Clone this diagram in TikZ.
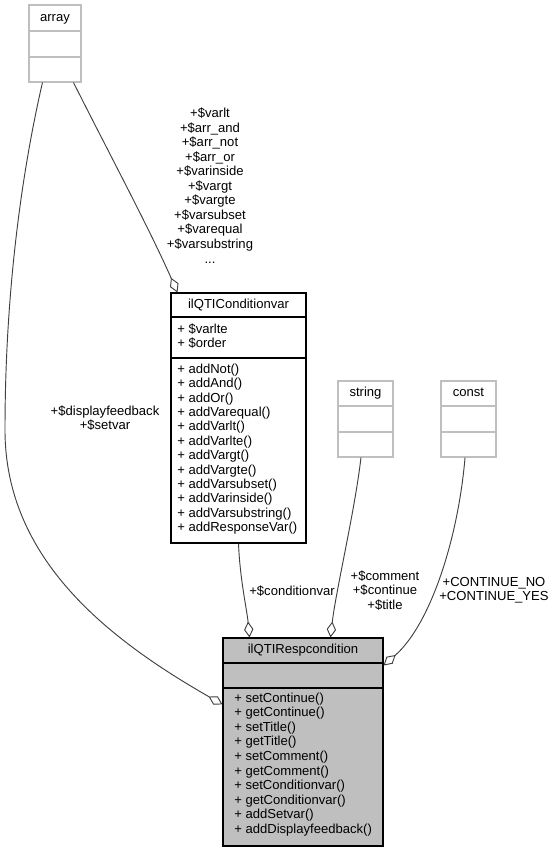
\documentclass[tikz,border=0pt]{standalone}
\usepackage{fontspec}
\setmainfont{Liberation Sans}
\usetikzlibrary{arrows.meta,fit}
\definecolor{boxgray}{HTML}{BFBFBF}
\definecolor{edgegray}{HTML}{404040}
\begin{document}
\begin{tikzpicture}[x=0.75pt,y=-0.75pt,
  txt/.style={font=\fontsize{9.8}{10.9}\selectfont, inner sep=0pt, text height=7pt, text depth=2pt},
  lbl/.style={font=\fontsize{9.8}{10.9}\selectfont, inner sep=0pt, align=center},
  graybox/.style={draw=boxgray, line width=0.8pt, inner sep=0pt},
  blackbox/.style={draw=black, line width=0.8pt, inner sep=0pt, fill=white},
  respbox/.style={draw=black, line width=0.8pt, inner sep=0pt, fill=boxgray},
  graydiv/.style={draw=boxgray, line width=0.8pt},
  blackdiv/.style={draw=black, line width=0.8pt},
  agg/.style={draw=edgegray, line width=0.7pt, -{Diamond[length=12pt,width=7pt,fill=white]}}
]
\path[use as bounding box] (0,0) rectangle (557,852);

% ---------- array ----------
\node[graybox, fit={(29,5) (81,82)}] (array) {};
\draw[graydiv] (29,31) -- (81,31);
\draw[graydiv] (29,57) -- (81,57);
\node[txt] (arrayT) at (55,18) {array};

% ---------- string ----------
\node[graybox, fit={(338,381) (393,457)}] (string) {};
\draw[graydiv] (338,406) -- (393,406);
\draw[graydiv] (338,432) -- (393,432);
\node[txt] (stringT) at (365.5,393.5) {string};

% ---------- const ----------
\node[graybox, fit={(441,381) (496,457)}] (const) {};
\draw[graydiv] (441,406) -- (496,406);
\draw[graydiv] (441,432) -- (496,432);
\node[txt] (constT) at (468.5,393.5) {const};

% ---------- ilQTIConditionvar ----------
\node[blackbox, fit={(171,293) (306,543)}] (cvar) {};
\draw[blackdiv] (171,317) -- (306,317);
\draw[blackdiv] (171,358) -- (306,358);
\node[txt] (cvarT) at (238.5,305) {ilQTIConditionvar};
\node[txt, anchor=west] (cvarA1) at (177,330) {+ \$varlte};
\node[txt, anchor=west] (cvarA2) at (177,344.5) {+ \$order};
\foreach \t [count=\i] in {addNot(),addAnd(),addOr(),addVarequal(),addVarlt(),addVarlte(),addVargt(),addVargte(),addVarsubset(),addVarinside(),addVarsubstring(),addResponseVar()}
  \node[txt, anchor=west] (cvarM\i) at (177,{370+(\i-1)*14.4}) {+ \t};

% ---------- ilQTIRespcondition ----------
\node[respbox, fit={(223,638) (383,846)}] (resp) {};
\draw[blackdiv] (223,663) -- (383,663);
\draw[blackdiv] (223,688) -- (383,688);
\node[txt] (respT) at (303,650.5) {ilQTIRespcondition};
\foreach \t [count=\i] in {setContinue(),getContinue(),setTitle(),getTitle(),setComment(),getComment(),setConditionvar(),getConditionvar(),addSetvar(),addDisplayfeedback()}
  \node[txt, anchor=west] (respM\i) at (234,{699+(\i-1)*14.55}) {+ \t};

% ---------- connectors ----------
\draw[agg] ([xshift=10.5pt]array.south west)
  .. controls (20,180) and (5,300) .. (5,430)
  .. controls (5,560) and (110,640) .. ([yshift=-50.25pt]resp.north west);
\node[lbl] (lblArr1) at (105,418) {+\$displayfeedback\\+\$setvar};

\draw[agg] ([xshift=33.75pt]array.south west)
  .. controls (110,155) and (150,230) .. ([xshift=5.25pt]cvar.north west);
\node[lbl] (lblArr2) at (210,185.5) {+\$varlt\\+\$arr\_and\\+\$arr\_not\\+\$arr\_or\\+\$varinside\\+\$vargt\\+\$vargte\\+\$varsubset\\+\$varequal\\+\$varsubstring\\...};

\draw[agg] (cvar.south)
  .. controls (240,580) and (247,610) .. ([xshift=20.25pt]resp.north west);
\node[lbl] (lblCvar) at (292,591) {+\$conditionvar};

\draw[agg] ([xshift=-3.4pt]string.south)
  .. controls (355,510) and (336,590) .. ([xshift=81pt]resp.north west);
\node[lbl] (lblStr) at (385,590.5) {+\$comment\\+\$continue\\+\$title};

\draw[agg] ([xshift=-2.6pt]const.south)
  .. controls (458,540) and (430,625) .. ([yshift=-21pt]resp.north east);
\node[lbl] (lblConst) at (494,590) {+CONTINUE\_NO\\+CONTINUE\_YES};
\end{tikzpicture}
\end{document}
